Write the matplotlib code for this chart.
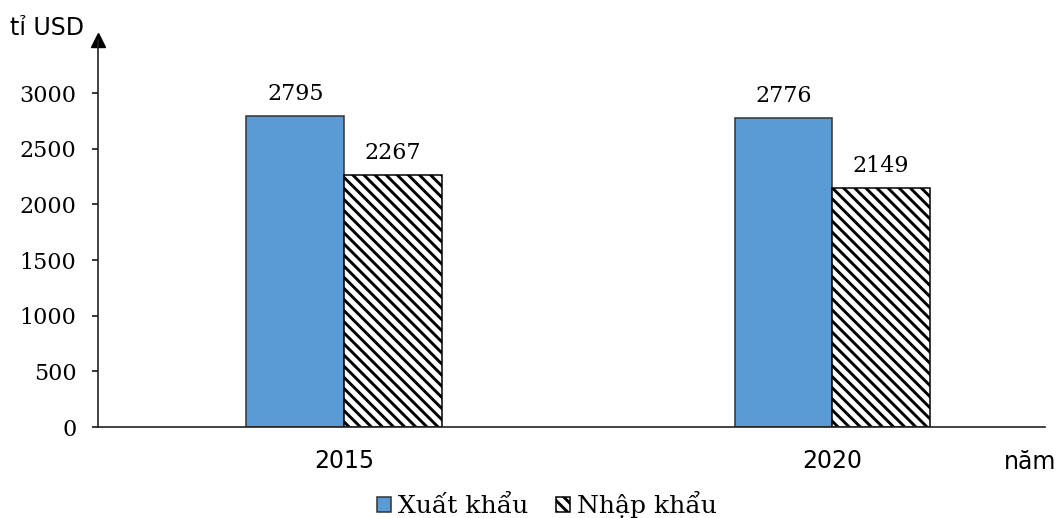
import matplotlib
matplotlib.use("Agg")
import matplotlib.pyplot as plt
import numpy as np

years = ["2015", "2020"]
xuat_khau = [2795, 2776]
nhap_khau = [2267, 2149]
series_names = ["Xuất khẩu", "Nhập khẩu"]
y_ticks = [0, 500, 1000, 1500, 2000, 2500, 3000]

plt.rcParams['hatch.linewidth'] = 2.1
plt.rcParams['hatch.color'] = 'black'

fig = plt.figure(figsize=(10.64, 5.18), dpi=100)
ax = fig.add_axes([98/1064, 1-427/518, (1045-98)/1064, (427-40)/518])

x = np.arange(len(years))
w = 0.2
b1 = ax.bar(x - w/2, xuat_khau, w, color='#5B9BD5', edgecolor='#333333', linewidth=1.1, label=series_names[0])
b2 = ax.bar(x + w/2, nhap_khau, w, color='white', edgecolor='black', hatch='\\\\\\', linewidth=1.1, label=series_names[1])

for bars, vals in ((b1, xuat_khau), (b2, nhap_khau)):
    for rect, v in zip(bars, vals):
        ax.annotate(str(v), (rect.get_x() + rect.get_width()/2, v), xytext=(0, 8),
                    textcoords='offset points', ha='center', va='bottom',
                    fontsize=16, family='DejaVu Serif')

ax.set_xlim(-0.504, 1.436)
ax.set_ylim(0, (427-40)/0.11133)
ax.set_yticks(y_ticks)
ax.set_yticklabels([str(t) for t in y_ticks], family='DejaVu Serif', fontsize=16)
ax.set_xticks(x)
ax.set_xticklabels(years, family='DejaVu Sans', fontsize=17)
ax.tick_params(axis='x', length=0, pad=16)
ax.tick_params(axis='y', direction='out', length=4.5, width=1.1, pad=11)

for s in ['top', 'right']:
    ax.spines[s].set_visible(False)
for s in ['left', 'bottom']:
    ax.spines[s].set_linewidth(1.2)
    ax.spines[s].set_color('#222222')

ax.plot([0], [1], marker='^', markersize=10, color='black', transform=ax.transAxes, clip_on=False)

fig.text(10/1064, 1-28/518, "tỉ USD", family='DejaVu Sans', fontsize=17, ha='left', va='center')
fig.text(1030/1064, 1-462/518, "năm", family='DejaVu Sans', fontsize=17, ha='center', va='center')

fig.legend(handles=[b1, b2], labels=series_names, loc='center', bbox_to_anchor=(547/1064, 1-505/518),
           ncol=2, frameon=False, prop={'family': 'DejaVu Serif', 'size': 18},
           handlelength=0.55, handleheight=0.55, handletextpad=0.3, columnspacing=1.1, borderaxespad=0)

fig.savefig("out.png", dpi=100)
